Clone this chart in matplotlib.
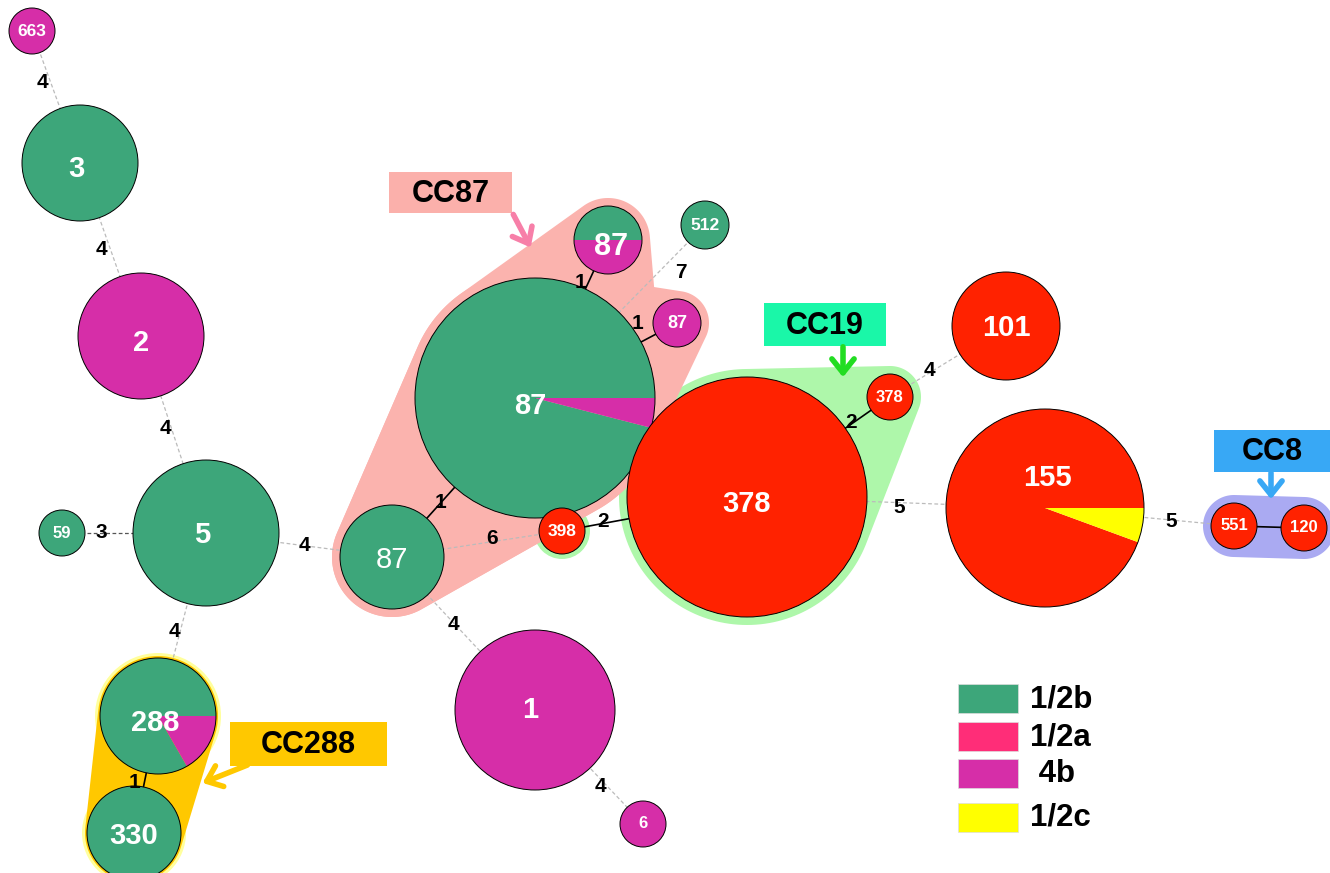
import numpy as np
import matplotlib.pyplot as plt
from matplotlib.patches import Wedge, Polygon, Rectangle, Circle, FancyArrowPatch

plt.rcParams['font.family'] = ['Liberation Sans', 'DejaVu Sans']

# --- data: sequence types, serotype make-up and allelic distances ---
nodes = ['663', '3', '2', '5', '59', '288', '330', '87s', '87b', '87t', '87r',
         '512', '398', '378b', '378s', '101', '155', '551', '120', '1', '6']
labels = ['663', '3', '2', '5', '59', '288', '330', '87', '87', '87', '87',
          '512', '398', '378', '378', '101', '155', '551', '120', '1', '6']
composition = {
    '663': [('4b', 1)], '3': [('1/2b', 1)], '2': [('4b', 1)], '5': [('1/2b', 1)],
    '59': [('1/2b', 1)], '288': [('1/2b', 0.833), ('4b', 0.167)], '330': [('1/2b', 1)],
    '87s': [('1/2b', 1)], '87b': [('1/2b', 0.96), ('4b', 0.04)],
    '87t': [('1/2b', 0.5), ('4b', 0.5)], '87r': [('4b', 1)], '512': [('1/2b', 1)],
    '398': [('1/2a', 1)], '378b': [('1/2a', 1)], '378s': [('1/2a', 1)], '101': [('1/2a', 1)],
    '155': [('1/2a', 0.944), ('1/2c', 0.056)], '551': [('1/2a', 1)], '120': [('1/2a', 1)],
    '1': [('4b', 1)], '6': [('4b', 1)],
}
edges = [('663', '3', 4), ('3', '2', 4), ('2', '5', 4), ('59', '5', 3), ('5', '288', 4),
         ('288', '330', 1), ('5', '87s', 4), ('87s', '87b', 1), ('87s', '398', 6),
         ('398', '378b', 2), ('87b', '87t', 1), ('87b', '87r', 1), ('87b', '512', 7),
         ('87s', '1', 4), ('1', '6', 4), ('378b', '378s', 2), ('378s', '101', 4),
         ('378b', '155', 5), ('155', '551', 5), ('551', '120', None)]
serotypes = ['1/2b', '1/2a', '4b', '1/2c']
legend_labels = ['1/2b', '1/2a', ' 4b', '1/2c']
legend_colors = ['#3DA67A', '#FF2D78', '#D62EA8', '#FFFF00']
node_colors = {'1/2b': '#3DA67A', '1/2a': '#FF2200', '4b': '#D62EA8', '1/2c': '#FFFF00'}

# --- layout (pixel coords, y down): x, y, radius, fontsize, bold, label dx, dy ---
layout = {
    '663': (32, 31, 23, 12.5, True, 0, 0), '3': (80, 163, 58, 21, True, -4, 6),
    '2': (141, 336, 63, 21, True, 0, 7), '5': (206, 533, 73, 21, True, -4, 2),
    '59': (62, 533, 23, 12, True, 0, 0), '288': (158, 716, 58, 21, True, -3, 7),
    '330': (134, 833, 47, 21, True, 0, 3), '87s': (392, 557, 52, 21, False, 0, 3),
    '87b': (535, 398, 120, 21, True, -5, 8), '87t': (608, 240, 34, 22, True, 3, 7),
    '87r': (677, 323, 24, 13, True, 0, 0), '512': (705, 225, 24, 12.5, True, 0, 0),
    '398': (562, 531, 23, 12.5, True, 0, 0), '378b': (747, 497, 120, 21, True, 0, 7),
    '378s': (890, 397, 23, 12, True, 0, 0), '101': (1006, 326, 54, 21, True, 0, 2),
    '155': (1045, 508, 99, 21, True, 2, -30), '551': (1234, 526, 23, 12, True, 0, 0),
    '120': (1304, 528, 23, 12, True, 0, 0), '1': (535, 710, 80, 21, True, -5, 0),
    '6': (643, 824, 23, 12, True, 0, 0),
}
# edge label: fraction along edge, offset
edge_label_pos = [(0.39, -8, 0), (0.5, -9, 0), (0.47, -6, 0), (0.27, 0, 0), (0.54, -6, 0),
                  (0.57, -10, 0), (0.53, 0, 0), (0.34, 0, 0), (0.59, 0, -3), (0.22, 0, -2),
                  (0.73, -8, 0), (0.74, -3, -19), (0.86, 0, 23), (0.43, 0, 2), (0.61, 0, 7),
                  (0.73, 0, -2), (0.34, 0, -2), (0.51, 0, 5), (0.67, 0, 1), None]


def hull(names, pad):
    pts = []
    th = np.linspace(0, 2 * np.pi, 180, endpoint=False)
    for n in names:
        x, y, r = layout[n][:3]
        pts += list(zip(x + (r + pad) * np.cos(th), y + (r + pad) * np.sin(th)))
    pts = sorted(set(pts))

    def cross(o, a, b):
        return (a[0] - o[0]) * (b[1] - o[1]) - (a[1] - o[1]) * (b[0] - o[0])
    lower, upper = [], []
    for p in pts:
        while len(lower) >= 2 and cross(lower[-2], lower[-1], p) <= 0:
            lower.pop()
        lower.append(p)
    for p in reversed(pts):
        while len(upper) >= 2 and cross(upper[-2], upper[-1], p) <= 0:
            upper.pop()
        upper.append(p)
    return np.array(lower[:-1] + upper[:-1])


fig = plt.figure(figsize=(13.3, 8.73), dpi=100)
ax = fig.add_axes([0, 0, 1, 1])
ax.set_xlim(0, 1330)
ax.set_ylim(873, 0)
ax.axis('off')

# clonal complex shading
ax.add_patch(Polygon(hull(['378b', '378s'], 8), fc='#AEF7AA', ec='none', zorder=1))
ax.add_patch(Circle(layout['398'][:2], layout['398'][2] + 5, fc='#AEF7AA', ec='none', zorder=1))
for grp in (['87s', '87b', '87t'], ['87s', '87b', '87r']):
    ax.add_patch(Polygon(hull(grp, 8), fc='#FBB3AE', ec='none', zorder=1))
for n in ('288', '330'):
    ax.add_patch(Circle(layout[n][:2], layout[n][2] + 5, fc='#FFFF9E', ec='none', zorder=1))
ax.add_patch(Polygon(hull(['288', '330'], 2), fc='#FFC800', ec='none', zorder=1))
ax.add_patch(Polygon(hull(['551', '120'], 8), fc='#AAAAF2', ec='none', zorder=1))

# edges
for (a, b, d), lp in zip(edges, edge_label_pos):
    xa, ya = layout[a][:2]
    xb, yb = layout[b][:2]
    if d is None or d <= 2:
        ax.plot([xa, xb], [ya, yb], color='black', lw=1.2, zorder=2)
    else:
        col = '#555555' if d == 3 else '#BBBBBB'
        ax.plot([xa, xb], [ya, yb], color=col, lw=0.9, ls=(0, (3, 2)), zorder=2)
    if lp is not None:
        t, dx, dy = lp
        ax.text(xa + t * (xb - xa) + dx, ya + t * (yb - ya) + dy, str(d), fontsize=15,
                fontweight='bold', ha='center', va='center', zorder=4)

# nodes as pies
for n, lab in zip(nodes, labels):
    x, y, r, fs, bold, ldx, ldy = layout[n]
    start = 0.0
    for sero, frac in composition[n]:
        end = start + frac * 360
        # y axis is inverted, so flip angles to keep visual counterclockwise order
        ax.add_patch(Wedge((x, y), r, -end, -start, fc=node_colors[sero], ec='none', zorder=3))
        start = end
    ax.add_patch(Circle((x, y), r, fc='none', ec='black', lw=0.7, zorder=3))
    ax.text(x + ldx, y + ldy, lab, color='white', fontsize=fs,
            fontweight='bold' if bold else 'normal', ha='center', va='center', zorder=4)

# callout boxes
callouts = [('CC87', (389, 172, 123, 41), '#FBB0AB', (512, 212), (532, 250), '#F77FA8'),
            ('CC19', (764, 303, 122, 43), '#1AF7A8', (843, 344), (843, 380), '#22DD22'),
            ('CC8', (1214, 430, 116, 42), '#38A8F5', (1271, 470), (1271, 502), '#38A8F5'),
            ('CC288', (230, 722, 157, 44), '#FFC800', (250, 764), (200, 784), '#FFC800')]
for txt, (bx, by, bw, bh), fc, p0, p1, ac in callouts:
    ax.add_patch(Rectangle((bx, by), bw, bh, fc=fc, ec='none', zorder=5))
    ax.text(bx + bw / 2, by + bh / 2 + 1, txt, fontsize=22, fontweight='bold',
            ha='center', va='center', zorder=6)
    ax.add_patch(FancyArrowPatch(p0, p1, arrowstyle='->,head_length=0.5,head_width=0.4',
                                 color=ac, lw=4, mutation_scale=20, zorder=5))

# legend
leg_y = [684, 722, 759, 803]
for lab, col, ly in zip(legend_labels, legend_colors, leg_y):
    ax.add_patch(Rectangle((958, ly), 60, 29, fc=col, ec='#DDDDDD', lw=0.5, zorder=5))
    ax.text(1030, ly + 15, lab, fontsize=22.5, fontweight='bold', ha='left', va='center', zorder=6)

plt.savefig('out.png', dpi=100)
